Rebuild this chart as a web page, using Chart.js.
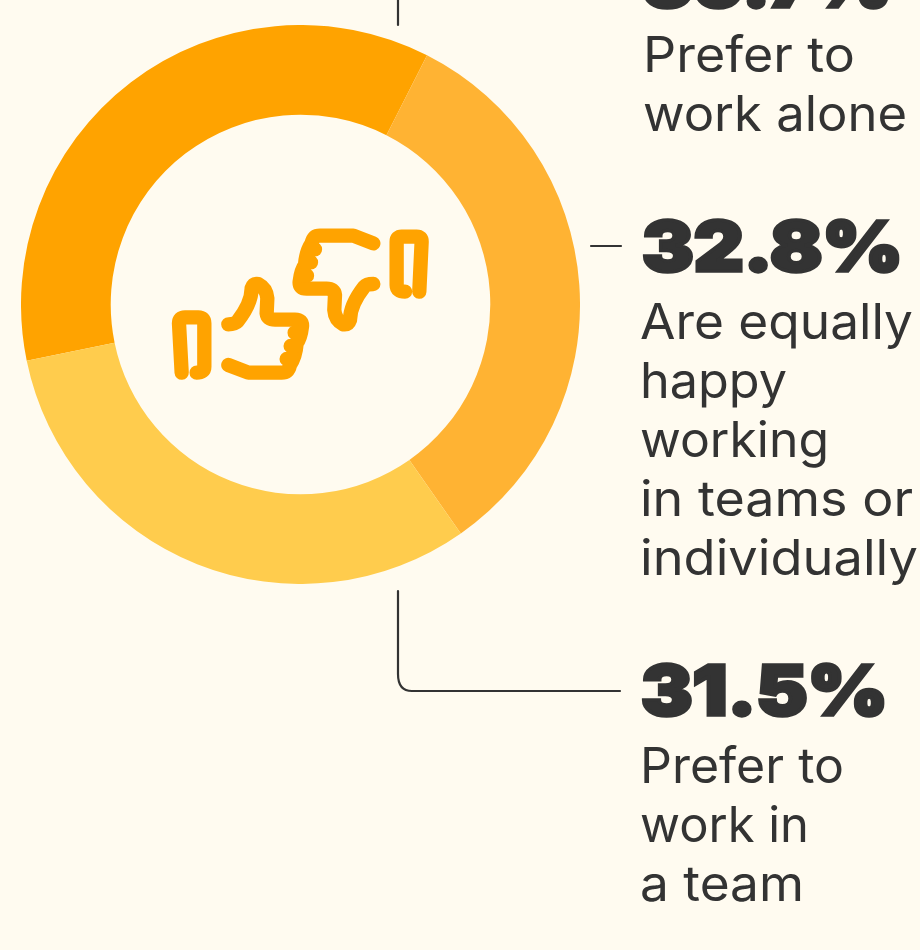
<!DOCTYPE html>
<html><head><meta charset="utf-8">
<script src="https://cdn.jsdelivr.net/npm/chart.js@4"></script>
<style>
html,body{margin:0;padding:0;width:920px;height:950px;overflow:hidden;background:#FFFBF0}
#c{position:absolute;left:21px;top:25px}
#o{position:absolute;left:0;top:0}
.b{font-family:Inter,"DejaVu Sans",sans-serif;font-weight:900;font-size:69px;fill:#333;stroke:#333;stroke-width:3.5px}
.t{font-family:Inter,"Noto Sans",sans-serif;font-weight:400;font-size:49px;fill:#333}
</style></head><body>
<canvas id="c" width="559" height="559"></canvas>
<svg id="o" width="920" height="950" viewBox="0 0 920 950">
<g fill="none" stroke="#333" stroke-width="2.2" stroke-linecap="round">
<path d="M398 0V25"/><path d="M591 246H621"/><path d="M398 591V674Q398 691 412 691H620"/>
</g>
<g id="icon" transform="translate(150 210) scale(.3333)" fill="none" stroke="#FFA300" stroke-width="43" stroke-linecap="round" stroke-linejoin="round">
<path d="M95 488L87 340Q87 322 105 322L145 322Q163 322 163 340L163 470Q163 488 140 488"/>
<path d="M808 245L815 95Q815 80 800 80L755 80Q740 80 740 95L740 225Q740 245 765 245"/>
<g id="th"><path d="M235 343Q255 343 262 335Q305 280 305 235Q310 220 325 222Q350 235 352 265L350 310Q352 329 375 329L435 329Q458 329 456 350Q452 385 440 400Q437 440 420 465Q415 488 395 488L295 488L235 465"/>
<path d="M434 368H446M422 408H436M410 447H424"/></g>
<use href="#th" transform="rotate(180 452.5 282.5)"/>
</g>
<g id="labels"></g>
</svg>
<script>
const categories = ["Prefer to work alone", "Are equally happy working in teams or individually", "Prefer to work in a team"];
const values = [35.7, 32.8, 31.5];
const colors = ["#FFA300", "#FFB333", "#FFCC4D"];
const headings = ["35.7%", "32.8%", "31.5%"];
const lines = [["Prefer to","work alone"],["Are equally","happy","working","in teams or","individually"],["Prefer to","work in","a team"]];
const headPos = [[642,7],[642,271],[641,715]];
const headWidths = [250,261,247];
const linePos = [[643,72],[640,339],[640,783]];
const lineWidths = [[212,264],[273,147,189,273,278],[204,169,164]];

new Chart(document.getElementById('c'), {
  type: 'doughnut',
  data: { labels: categories, datasets: [{ data: values, backgroundColor: colors, borderWidth: 0, hoverOffset: 0 }] },
  options: {
    responsive: false, animation: false, rotation: 258.4, cutout: '67.9%',
    layout: { padding: 0 },
    plugins: { legend: { display: false }, tooltip: { enabled: false } }
  }
});
const ns = 'http://www.w3.org/2000/svg', g = document.getElementById('labels');
function txt(s, x, y, cls, w) { const e = document.createElementNS(ns, 'text'); e.setAttribute('x', x); e.setAttribute('y', y); e.setAttribute('class', cls); e.setAttribute('textLength', w); e.setAttribute('lengthAdjust', 'spacingAndGlyphs'); e.textContent = s; g.appendChild(e); }
headings.forEach((h, i) => {
  txt(h, headPos[i][0], headPos[i][1], 'b', headWidths[i]);
  lines[i].forEach((l, j) => txt(l, linePos[i][0], linePos[i][1] + j * 59, 't', lineWidths[i][j]));
});
</script>
</body></html>
